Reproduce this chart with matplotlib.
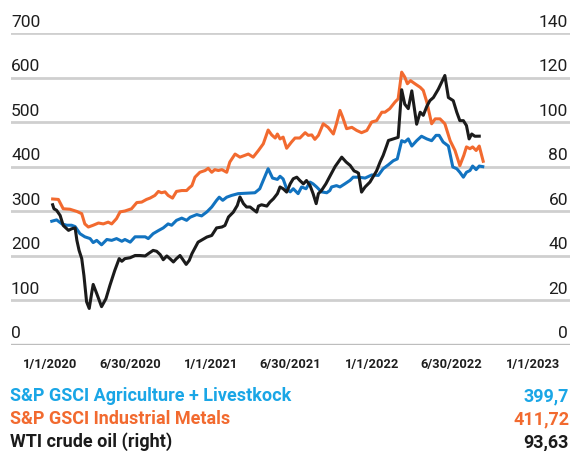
import matplotlib
matplotlib.use("Agg")
import matplotlib.pyplot as plt
import matplotlib.transforms as mtransforms
import pandas as pd

plt.rcParams['font.family'] = ['Roboto', 'DejaVu Sans']

# ---------------- data ----------------
metals_dates = [
    "2020-01-07", "2020-01-20", "2020-01-31", "2020-02-15", "2020-03-02", "2020-03-13",
    "2020-03-20", "2020-03-28", "2020-04-08", "2020-04-20", "2020-05-01", "2020-05-12",
    "2020-05-20", "2020-05-31", "2020-06-08", "2020-06-19", "2020-07-04", "2020-07-16",
    "2020-07-27", "2020-08-07", "2020-08-15", "2020-08-26", "2020-09-03", "2020-09-10",
    "2020-09-18", "2020-09-25", "2020-10-05", "2020-10-14", "2020-10-26", "2020-11-06",
    "2020-11-12", "2020-11-18", "2020-11-25", "2020-12-06", "2020-12-18", "2020-12-25",
    "2021-01-02", "2021-01-09", "2021-01-17", "2021-01-25", "2021-02-05", "2021-02-12",
    "2021-02-24", "2021-03-07", "2021-03-18", "2021-03-26", "2021-04-06", "2021-04-18",
    "2021-04-29", "2021-05-10", "2021-05-18", "2021-05-26", "2021-05-31", "2021-06-06",
    "2021-06-13", "2021-06-21", "2021-07-02", "2021-07-10", "2021-07-21", "2021-08-02",
    "2021-08-09", "2021-08-17", "2021-08-24", "2021-09-01", "2021-09-12", "2021-09-23",
    "2021-10-05", "2021-10-12", "2021-10-20", "2021-10-26", "2021-11-04", "2021-11-16",
    "2021-11-27", "2021-12-08", "2021-12-20", "2021-12-31", "2022-01-11", "2022-01-23",
    "2022-01-30", "2022-02-10", "2022-02-22", "2022-03-01", "2022-03-09", "2022-03-16",
    "2022-03-22", "2022-03-29", "2022-04-08", "2022-04-20", "2022-04-27", "2022-05-05",
    "2022-05-16", "2022-05-24", "2022-06-04", "2022-06-15", "2022-06-27", "2022-07-08",
    "2022-07-19", "2022-07-28", "2022-08-03", "2022-08-11", "2022-08-17", "2022-08-25",
    "2022-09-01", "2022-09-10",
]
metals_values = [
    327, 326, 305, 304, 299, 294,
    271, 264, 268, 273, 271, 275,
    271, 283, 298, 300, 305, 319,
    320, 326, 329, 335, 344, 341,
    343, 335, 329, 344, 346, 346,
    352, 357, 376, 387, 391, 396,
    387, 393, 391, 393, 387, 410,
    428, 421, 425, 428, 421, 436,
    451, 482, 471, 464, 473, 462,
    466, 441, 455, 464, 464, 476,
    470, 471, 461, 470, 496, 488,
    473, 496, 526, 511, 485, 488,
    481, 476, 481, 500, 503, 522,
    522, 530, 545, 552, 612, 601,
    586, 593, 586, 578, 571, 545,
    496, 507, 507, 496, 458, 436,
    402, 425, 444, 440, 444, 436,
    446, 411.72,
]

agri_dates = [
    "2020-01-05", "2020-01-16", "2020-01-28", "2020-02-08", "2020-02-19", "2020-02-27",
    "2020-03-09", "2020-03-20", "2020-04-01", "2020-04-08", "2020-04-16", "2020-04-27",
    "2020-05-09", "2020-05-20", "2020-05-31", "2020-06-12", "2020-06-19", "2020-07-01",
    "2020-07-12", "2020-07-23", "2020-08-04", "2020-08-11", "2020-08-22", "2020-09-03",
    "2020-09-14", "2020-09-25", "2020-10-03", "2020-10-14", "2020-10-26", "2020-11-06",
    "2020-11-14", "2020-11-29", "2020-12-10", "2020-12-22", "2021-01-02", "2021-01-13",
    "2021-01-19", "2021-01-27", "2021-02-05", "2021-02-16", "2021-03-03", "2021-03-22",
    "2021-04-10", "2021-04-21", "2021-04-29", "2021-05-10", "2021-05-20", "2021-05-31",
    "2021-06-06", "2021-06-13", "2021-06-21", "2021-06-29", "2021-07-06", "2021-07-17",
    "2021-07-25", "2021-08-04", "2021-08-13", "2021-08-20", "2021-08-28", "2021-09-08",
    "2021-09-20", "2021-09-27", "2021-10-01", "2021-10-12", "2021-10-20", "2021-10-31",
    "2021-11-12", "2021-11-19", "2021-12-01", "2021-12-16", "2021-12-31", "2022-01-15",
    "2022-01-26", "2022-02-07", "2022-02-18", "2022-02-27", "2022-03-09", "2022-03-16",
    "2022-03-24", "2022-04-01", "2022-04-12", "2022-04-23", "2022-05-05", "2022-05-16",
    "2022-05-26", "2022-06-02", "2022-06-11", "2022-06-23", "2022-07-03", "2022-07-12",
    "2022-07-19", "2022-07-27", "2022-08-03", "2022-08-11", "2022-08-17", "2022-08-25",
    "2022-09-01", "2022-09-09",
]
agri_values = [
    277, 280, 271, 268, 268, 265,
    249, 242, 238, 229, 234, 224,
    236, 234, 238, 232, 236, 230,
    242, 242, 242, 238, 249, 256,
    262, 271, 268, 279, 284, 279,
    286, 292, 289, 298, 309, 324,
    331, 324, 331, 335, 339, 340,
    341, 350, 369, 395, 374, 371,
    378, 372, 350, 343, 350, 339,
    354, 350, 365, 361, 354, 343,
    341, 346, 354, 357, 354, 361,
    369, 376, 376, 374, 381, 380,
    395, 404, 413, 417, 458, 455,
    462, 446, 458, 468, 462, 458,
    470, 470, 455, 446, 399, 395,
    387, 376, 387, 391, 401, 393,
    401, 399.7,
]

oil_dates = [
    "2020-01-07", "2020-01-10", "2020-01-16", "2020-01-24", "2020-01-31", "2020-02-12",
    "2020-02-19", "2020-02-27", "2020-03-02", "2020-03-07", "2020-03-13", "2020-03-18",
    "2020-03-24", "2020-03-30", "2020-04-05", "2020-04-08", "2020-04-16", "2020-04-27",
    "2020-05-07", "2020-05-16", "2020-05-27", "2020-06-06", "2020-06-12", "2020-06-19",
    "2020-07-01", "2020-07-12", "2020-07-23", "2020-08-04", "2020-08-11", "2020-08-22",
    "2020-08-30", "2020-09-07", "2020-09-14", "2020-09-22", "2020-09-29", "2020-10-07",
    "2020-10-14", "2020-10-22", "2020-10-28", "2020-11-05", "2020-11-12", "2020-11-18",
    "2020-12-02", "2020-12-22", "2021-01-02", "2021-01-13", "2021-01-25", "2021-02-01",
    "2021-02-09", "2021-02-20", "2021-03-01", "2021-03-07", "2021-03-15", "2021-03-22",
    "2021-03-30", "2021-04-06", "2021-04-14", "2021-04-18", "2021-04-25", "2021-05-07",
    "2021-05-14", "2021-05-22", "2021-05-31", "2021-06-06", "2021-06-13", "2021-06-21",
    "2021-06-29", "2021-07-06", "2021-07-14", "2021-07-21", "2021-07-29", "2021-08-05",
    "2021-08-13", "2021-08-20", "2021-08-27", "2021-09-01", "2021-09-08", "2021-09-18",
    "2021-09-26", "2021-10-09", "2021-10-24", "2021-11-03", "2021-11-12", "2021-11-21",
    "2021-11-27", "2021-12-01", "2021-12-08", "2021-12-16", "2021-12-27", "2022-01-11",
    "2022-01-19", "2022-01-26", "2022-02-03", "2022-02-07", "2022-02-18", "2022-03-01",
    "2022-03-09", "2022-03-16", "2022-03-24", "2022-04-01", "2022-04-12", "2022-04-20",
    "2022-04-27", "2022-05-05", "2022-05-12", "2022-05-20", "2022-05-31", "2022-06-15",
    "2022-06-23", "2022-07-04", "2022-07-12", "2022-07-19", "2022-07-27", "2022-08-03",
    "2022-08-09", "2022-08-15", "2022-08-22", "2022-09-01",
]
oil_values = [
    62.8, 61.0, 60.3, 58.0, 53.5, 51.3,
    52.0, 52.4, 46.8, 42.3, 38.6, 31.0,
    19.2, 16.2, 23.6, 27.0, 22.9, 17.0,
    20.6, 26.6, 33.3, 38.6, 37.4, 38.6,
    39.0, 40.0, 40.0, 39.8, 40.8, 42.3,
    41.9, 40.4, 38.1, 39.8, 38.6, 37.1,
    38.6, 40.0, 38.3, 36.0, 37.8, 40.8,
    46.0, 48.3, 49.0, 52.4, 52.8, 53.5,
    57.3, 59.5, 62.5, 66.3, 63.3, 61.8,
    61.8, 60.7, 59.5, 62.2, 62.8, 62.2,
    64.0, 65.5, 67.8, 70.8, 70.0, 68.5,
    72.2, 74.5, 75.2, 73.7, 72.2, 73.7,
    71.5, 67.8, 63.3, 67.8, 69.2, 72.2,
    75.2, 80.0, 84.2, 82.0, 80.5, 78.0,
    77.5, 77.0, 68.5, 70.8, 73.0, 78.0,
    82.0, 85.0, 89.4, 91.7, 92.4, 93.1,
    114.5, 108.0, 106.0, 114.0, 99.0, 104.4,
    103.0, 107.0, 109.6, 111.0, 114.7, 120.9,
    111.0, 109.6, 104.4, 100.6, 100.6, 98.4,
    92.4, 94.6, 93.6, 93.63,
]

left_ticks = [0, 100, 200, 300, 400, 500, 600, 700]
right_ticks = [0, 20, 40, 60, 80, 100, 120, 140]
x_tick_dates = ["2020-01-01", "2020-06-30", "2021-01-01", "2021-06-30",
                "2022-01-01", "2022-06-30", "2023-01-01"]
x_tick_labels = ["1/1/2020", "6/30/2020", "1/1/2021", "6/30/2021",
                 "1/1/2022", "6/30/2022", "1/1/2023"]

legend_labels = ["S&P GSCI Agriculture + Livestkock", "S&P GSCI Industrial Metals",
                 "WTI crude oil (right)"]
legend_values = ["399,7", "411,72", "93,63"]

# ---------------- style ----------------
BLUE_LINE = "#1273c0"
BLUE_TEXT = "#1aa6e6"
ORANGE = "#f26a2f"
BLACK = "#1b1b1b"
GRID = "#cfcfcf"

W, H = 573, 452
fig = plt.figure(figsize=(W / 100, H / 100), dpi=100)

ax_left_px, ax_right_px = 11, 570
ax_top_px, ax_bot_px = 34, 345.5
ax = fig.add_axes([ax_left_px / W, 1 - ax_bot_px / H,
                   (ax_right_px - ax_left_px) / W, (ax_bot_px - ax_top_px) / H])
ax2 = ax.twinx()

d0 = pd.Timestamp("2020-01-01")
d1 = pd.Timestamp("2023-01-01")
px_per_day = (533 - 50) / (d1 - d0).days
xmin = d0 - pd.Timedelta(days=(50 - ax_left_px) / px_per_day)
xmax = d1 + pd.Timedelta(days=(ax_right_px - 533) / px_per_day)

ax.set_ylim(0, 700)
ax2.set_ylim(0, 140)
ax.set_xlim(xmin, xmax)

for yv in left_ticks[1:]:
    ax.axhline(yv, color=GRID, lw=2.0, zorder=0)
ax.axhline(0, color="#bdbdbd", lw=2.4, zorder=0)

LW = 2.2
ax.plot(pd.to_datetime(agri_dates), agri_values, color=BLUE_LINE, lw=LW,
        solid_joinstyle="round", zorder=3)
ax.plot(pd.to_datetime(metals_dates), metals_values, color=ORANGE, lw=LW,
        solid_joinstyle="round", zorder=3)
ax2.plot(pd.to_datetime(oil_dates), oil_values, color=BLACK, lw=LW,
         solid_joinstyle="round", zorder=4)
ax2.set_xlim(xmin, xmax)

for a in (ax, ax2):
    for s in a.spines.values():
        s.set_visible(False)
    a.set_yticks([])
    a.patch.set_visible(False)

lt = mtransforms.blended_transform_factory(ax.transAxes, ax.transData)
lt_off = mtransforms.offset_copy(lt, fig=fig, x=0, y=3.0, units="points")
for yv in left_ticks:
    ax.text(0.0, yv, str(yv), transform=lt_off, ha="left", va="bottom",
            fontsize=12.5, color="#1e1e1e")
rt = mtransforms.blended_transform_factory(ax2.transAxes, ax2.transData)
rt_off = mtransforms.offset_copy(rt, fig=fig, x=-1.5, y=3.0, units="points")
for yv in right_ticks:
    ax2.text(1.0, yv, str(yv), transform=rt_off, ha="right", va="bottom",
             fontsize=12.5, color="#1e1e1e")

ax.set_xticks(pd.to_datetime(x_tick_dates))
ax.set_xticklabels(x_tick_labels, fontsize=9.3, fontweight="bold", color="#1e1e1e")
ax.tick_params(axis="x", length=0, pad=9)
ax2.tick_params(axis="x", length=0)

legend_colors = [BLUE_TEXT, ORANGE, BLACK]
row_y = [396, 419, 442]
for lab, val, col, ry in zip(legend_labels, legend_values, legend_colors, row_y):
    fig.text(10 / W, 1 - ry / H, lab, ha="left", va="center", fontsize=13.0,
             fontweight="bold", color=col)
    fig.text(569 / W, 1 - ry / H, val, ha="right", va="center", fontsize=13.0,
             fontweight="bold", color=col)

fig.savefig("out.png", dpi=100, facecolor="white")
